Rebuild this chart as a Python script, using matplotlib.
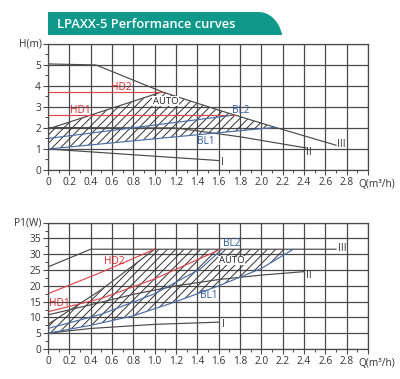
import numpy as np
import matplotlib
matplotlib.use("Agg")
import matplotlib.pyplot as plt
from matplotlib.path import Path
from matplotlib.patches import PathPatch

plt.rcParams['font.family'] = ['Open Sans', 'DejaVu Sans']
plt.rcParams['hatch.linewidth'] = 0.7

# ---------------- Head chart data (Q in m3/h, H in m) ----------------
h_III_q = [0, 0.45, 1.07, 1.6, 2.13, 2.7]
h_III_v = [5.05, 5.0, 3.72, 2.85, 2.03, 1.18]
h_II_q = [0, 1.2, 1.8, 2.42]
h_II_v = [2.02, 2.0, 1.58, 1.05]
h_I_q = [0, 1.6]
h_I_v = [1.0, 0.45]
h_HD2_q = [0, 1.07]
h_HD2_v = [3.7, 3.7]
h_HD1_q = [0, 1.75]
h_HD1_v = [2.6, 2.6]
h_BL2_q = [0, 1.72]
h_BL2_v = [1.5, 2.6]
h_BL1_q = [0, 2.13]
h_BL1_v = [1.0, 2.03]
h_AUTO_q = [0, 1.07]
h_AUTO_v = [1.95, 3.72]

# ---------------- Power chart data (Q in m3/h, P1 in W) ----------------
p_III_q = [0, 0.4, 2.7]
p_III_v = [26.0, 31.6, 31.6]
p_II_q = [0, 0.4, 0.8, 1.2, 1.6, 2.0, 2.4]
p_II_v = [10.8, 14.0, 17.3, 20.0, 22.0, 23.4, 24.5]
p_I_q = [0, 0.4, 1.0, 1.6]
p_I_v = [5.0, 6.5, 7.8, 8.5]
p_HD2_q = [0, 0.5, 1.0]
p_HD2_v = [17.5, 24.3, 31.6]
p_HD1_q = [0, 0.5, 1.0, 1.62]
p_HD1_v = [11.8, 16.0, 22.2, 31.6]
p_BL2_q = [0, 0.5, 1.0, 1.43, 1.63]
p_BL2_v = [6.5, 11.0, 17.5, 25.4, 31.6]
p_BL1_q = [0, 0.4, 0.8, 1.2, 1.6, 2.0, 2.3]
p_BL1_v = [5.0, 7.5, 10.5, 15.0, 20.0, 25.5, 31.6]
p_AUTO_q = [0, 0.5, 1.0]
p_AUTO_v = [7.8, 18.8, 31.6]

x_labels = ["0", "0.2", "0.4", "0.6", "0.8", "1.0", "1.2", "1.4", "1.6", "1.8",
            "2.0", "2.2", "2.4", "2.6", "2.8"]
h_ticks = [0, 1, 2, 3, 4, 5]
p_ticks = [0, 5, 10, 15, 20, 25, 30, 35]

GRAY = "#4a4a4a"
RED = "#e0474c"
BLUE = "#4a6ea8"
RED_T = "#d9272e"
BLUE_T = "#2d5aa0"
TEAL = "#10998a"

fig = plt.figure(figsize=(4.0, 3.79), dpi=100)
ax1 = fig.add_axes([0.12, 0.5515, 0.80, 0.3325])
ax2 = fig.add_axes([0.12, 0.0792, 0.80, 0.3332])


def style(ax, ymax, yticks, ystep, ylabel):
    ax.set_xlim(0, 3.0)
    ax.set_ylim(0, ymax)
    ax.set_xticks(np.arange(0, 3.01, 0.2), minor=False)
    ax.set_xticklabels(x_labels + [""])
    ax.set_xticks(np.arange(0.1, 3.0, 0.2), minor=True)
    ax.set_yticks(list(yticks) + [ymax])
    ax.set_yticklabels([str(t) for t in yticks] + [""])
    ax.set_yticks(np.arange(ystep / 2, ymax, ystep), minor=True)
    ax.grid(True, which="major", color=GRAY, linewidth=0.9)
    ax.set_axisbelow(True)
    for s in ax.spines.values():
        s.set_color(GRAY)
        s.set_linewidth(0.9)
    ax.tick_params(which="major", length=3.5, width=0.8, color=GRAY,
                   labelsize=7.3, pad=1.5, labelcolor="#333333")
    ax.tick_params(which="minor", length=2, width=0.7, color=GRAY)
    ax.text(-0.02, ymax, ylabel, transform=ax.get_yaxis_transform(),
            ha="right", va="center", fontsize=7.3, color="#333333")
    ax.text(2.91, -0.075, "Q(m³/h)", transform=ax.get_xaxis_transform(),
            ha="left", va="top", fontsize=7.3, color="#333333")


style(ax1, 6, h_ticks, 1, "H(m)")
style(ax2, 40, p_ticks, 5, "P1(W)")

lw = 0.85
HATCH = "////"
# ---- top chart ----
q_top = np.linspace(0, h_BL1_q[-1], 200)
upper = np.minimum(np.interp(q_top, h_AUTO_q, h_AUTO_v, right=99),
                   np.interp(q_top, h_III_q, h_III_v))
lower = np.interp(q_top, h_BL1_q, h_BL1_v)
ax1.fill_between(q_top, lower, upper, facecolor="none", edgecolor="#333333",
                 hatch=HATCH, linewidth=0)
ax1.plot(h_AUTO_q, h_AUTO_v, color=GRAY, lw=lw)
ax1.plot(h_III_q, h_III_v, color=GRAY, lw=lw)
ax1.plot(h_II_q, h_II_v, color=GRAY, lw=lw)
ax1.plot(h_I_q, h_I_v, color=GRAY, lw=lw)
ax1.plot(h_HD2_q, h_HD2_v, color=RED, lw=lw)
ax1.plot(h_HD1_q, h_HD1_v, color=RED, lw=lw)
ax1.plot(h_BL2_q, h_BL2_v, color=BLUE, lw=lw)
ax1.plot(h_BL1_q, h_BL1_v, color=BLUE, lw=lw)

fs = 7.3
ax1.text(0.69, 3.93, "HD2", color=RED_T, fontsize=fs, ha="center", va="center")
ax1.text(0.30, 2.83, "HD1", color=RED_T, fontsize=fs, ha="center", va="center")
ax1.text(1.10, 3.27, "AUTO", color="#222222", fontsize=6.8, ha="center", va="center",
         bbox=dict(facecolor="white", edgecolor="none", pad=0.3))
ax1.text(1.81, 2.83, "BL2", color=BLUE_T, fontsize=fs, ha="center", va="center")
ax1.text(1.48, 1.37, "BL1", color=BLUE_T, fontsize=fs, ha="center", va="center")
ax1.text(1.62, 0.36, "I", color="#333333", fontsize=fs, ha="left", va="center")
ax1.text(2.42, 0.84, "II", color="#333333", fontsize=fs, ha="left", va="center")
ax1.text(2.71, 1.2, "III", color="#333333", fontsize=fs, ha="left", va="center")

# ---- bottom chart ----
q_bot = np.linspace(0, p_BL1_q[-1], 200)
upper2 = np.minimum(np.interp(q_bot, p_AUTO_q, p_AUTO_v, right=99),
                    np.interp(q_bot, p_III_q, p_III_v))
lower2 = np.interp(q_bot, p_BL1_q, p_BL1_v)
ax2.fill_between(q_bot, lower2, upper2, facecolor="none", edgecolor="#333333",
                 hatch=HATCH, linewidth=0)
ax2.plot(p_AUTO_q, p_AUTO_v, color=GRAY, lw=lw)
ax2.plot(p_III_q, p_III_v, color=GRAY, lw=lw)
ax2.plot(p_II_q, p_II_v, color=GRAY, lw=lw)
ax2.plot(p_I_q, p_I_v, color=GRAY, lw=lw)
ax2.plot(p_HD2_q, p_HD2_v, color=RED, lw=lw)
ax2.plot(p_HD1_q, p_HD1_v, color=RED, lw=lw)
ax2.plot(p_BL2_q, p_BL2_v, color=BLUE, lw=lw)
ax2.plot(p_BL1_q, p_BL1_v, color=BLUE, lw=lw)

ax2.text(0.62, 27.8, "HD2", color=RED_T, fontsize=fs, ha="center", va="center")
ax2.text(0.11, 14.4, "HD1", color=RED_T, fontsize=fs, ha="center", va="center")
ax2.text(1.72, 28.0, "AUTO", color="#222222", fontsize=6.8, ha="center", va="center",
         bbox=dict(facecolor="white", edgecolor="none", pad=0.3))
ax2.text(1.72, 33.3, "BL2", color=BLUE_T, fontsize=fs, ha="center", va="center")
ax2.text(1.51, 16.8, "BL1", color=BLUE_T, fontsize=fs, ha="center", va="center")
ax2.text(1.63, 7.9, "I", color="#333333", fontsize=fs, ha="left", va="center")
ax2.text(2.42, 23.3, "II", color="#333333", fontsize=fs, ha="left", va="center")
ax2.text(2.72, 31.8, "III", color="#333333", fontsize=fs, ha="left", va="center")

# ---- title banner ----
W, H = 400.0, 379.0
x0, x1, y0, y1 = 48 / W, 282 / W, 1 - 35 / H, 1 - 12 / H
r = 24 / W
verts = [(x0, y0), (x1, y0),
         (x1, y0 + (y1 - y0) * 0.15),
         (x1 - r * 0.25, y1), (x1 - r, y1),
         (x0, y1), (x0, y0)]
codes = [Path.MOVETO, Path.LINETO, Path.CURVE4, Path.CURVE4, Path.CURVE4,
         Path.LINETO, Path.CLOSEPOLY]
fig.patches.append(PathPatch(Path(verts, codes), transform=fig.transFigure,
                             facecolor=TEAL, edgecolor="none"))
fig.text(57 / W, 1 - 24 / H, "LPAXX-5 Performance curves", color="white",
         fontsize=9.3, fontweight="semibold", ha="left", va="center")

fig.savefig("out.png", dpi=100, facecolor="white")
